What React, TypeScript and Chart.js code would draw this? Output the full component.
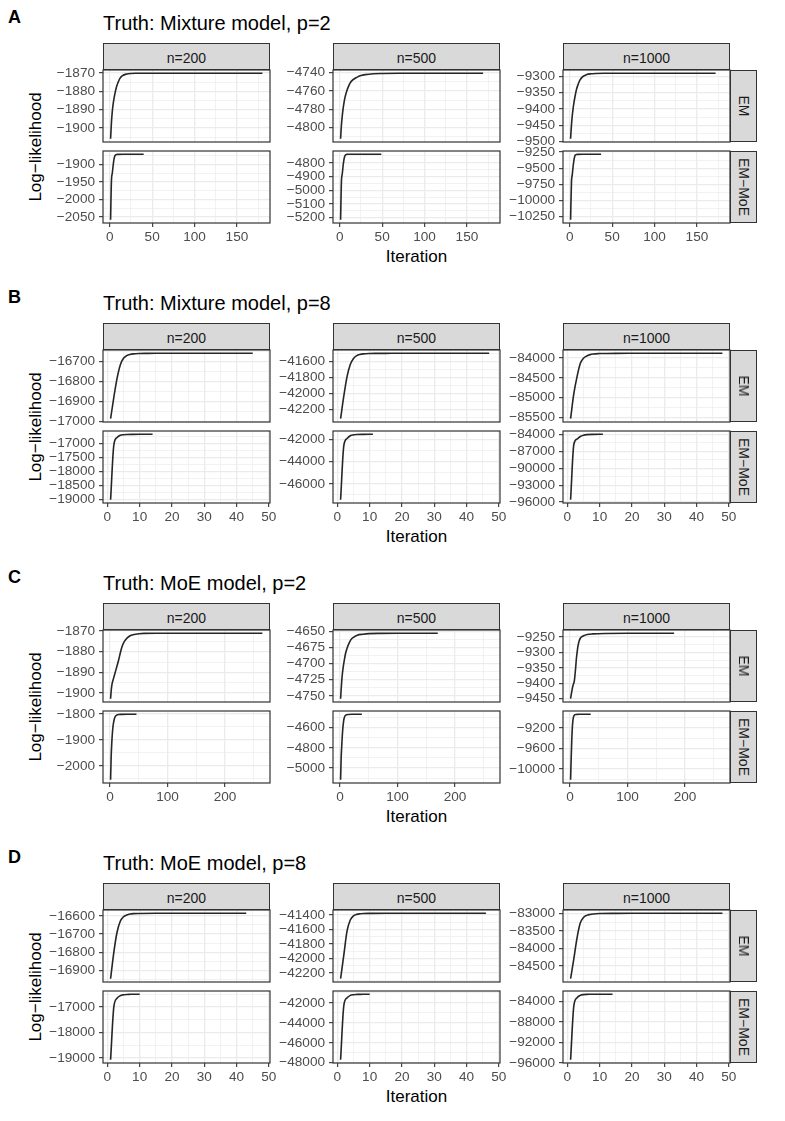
import React, { useEffect, useRef } from 'react';
import { Chart, registerables } from 'chart.js';

Chart.register(...registerables);

// ---------- labels ----------
const BLOCK_LETTERS = ['A', 'B', 'C', 'D'];
const BLOCK_TITLES = [
  'Truth: Mixture model, p=2',
  'Truth: Mixture model, p=8',
  'Truth: MoE model, p=2',
  'Truth: MoE model, p=8',
];
const SAMPLE_SIZES = ['n=200', 'n=500', 'n=1000'];
const METHODS = ['EM', 'EM\u2212MoE'];
const Y_TITLE = 'Log\u2212likelihood';
const X_TITLE = 'Iteration';

// ---------- x tick labels per block ----------
const X_TICKS_A = [0, 50, 100, 150];
const X_TICKS_B = [0, 10, 20, 30, 40, 50];
const X_TICKS_C = [0, 100, 200];
const X_TICKS_D = [0, 10, 20, 30, 40, 50];

// ---------- Block A: Mixture model, p=2 ----------
const A_N200_EM_ITER = [1, 2, 3, 4, 5, 6, 8, 10, 12, 15, 20, 25, 30, 40, 60, 100, 180];
const A_N200_EM_LL = [-1905.8, -1897, -1891, -1887, -1884, -1881.5, -1877.5, -1875, -1873, -1871.5, -1870.6, -1870.3, -1870.2, -1870.2, -1870.2, -1870.2, -1870.2];
const A_N200_EM_YTICKS = [-1900, -1890, -1880, -1870];
const A_N500_EM_ITER = [1, 2, 3, 4, 5, 6, 8, 10, 12, 15, 20, 25, 30, 40, 50, 70, 100, 169];
const A_N500_EM_LL = [-4812, -4797, -4787, -4779, -4773, -4768, -4761, -4756, -4752, -4748.5, -4745.5, -4743.5, -4742.5, -4741.5, -4741.2, -4741, -4741, -4741];
const A_N500_EM_YTICKS = [-4800, -4780, -4760, -4740];
const A_N1000_EM_ITER = [1, 2, 3, 4, 5, 6, 8, 10, 12, 15, 20, 25, 30, 40, 60, 100, 172];
const A_N1000_EM_LL = [-9491, -9450, -9420, -9398, -9380, -9365, -9340, -9324, -9312, -9302, -9295, -9292.5, -9291.5, -9291, -9291, -9291, -9291];
const A_N1000_EM_YTICKS = [-9500, -9450, -9400, -9350, -9300];
const A_N200_MOE_ITER = [1, 2, 3, 4, 5, 6, 7, 8, 10, 15, 20, 40];
const A_N200_MOE_LL = [-2057.5, -1946, -1925, -1903, -1885, -1876, -1872.5, -1871.5, -1871.2, -1871, -1871, -1871];
const A_N200_MOE_YTICKS = [-2050, -2000, -1950, -1900];
const A_N500_MOE_ITER = [1, 2, 3, 4, 5, 6, 7, 8, 10, 15, 20, 49];
const A_N500_MOE_LL = [-5215, -4935, -4880, -4820, -4775, -4750, -4741, -4739, -4738.3, -4738, -4738, -4738];
const A_N500_MOE_YTICKS = [-5200, -5100, -5000, -4900, -4800];
const A_N1000_MOE_ITER = [1, 2, 3, 4, 5, 6, 7, 8, 10, 15, 20, 37];
const A_N1000_MOE_LL = [-10302, -9729, -9600, -9470, -9370, -9310, -9292, -9287, -9285, -9284, -9284, -9284];
const A_N1000_MOE_YTICKS = [-10250, -10000, -9750, -9500, -9250];

// ---------- Block B: Mixture model, p=8 ----------
const B_N200_EM_ITER = [1, 2, 3, 4, 5, 6, 7, 8, 10, 12, 15, 20, 30, 45];
const B_N200_EM_LL = [-16987, -16880, -16785, -16718, -16685, -16672, -16666, -16663, -16661, -16660.5, -16660, -16660, -16660, -16660];
const B_N200_EM_YTICKS = [-17000, -16900, -16800, -16700];
const B_N500_EM_ITER = [1, 2, 3, 4, 5, 6, 7, 8, 10, 12, 15, 20, 30, 47];
const B_N500_EM_LL = [-42312, -42030, -41790, -41640, -41565, -41530, -41515, -41508, -41503, -41501.5, -41501, -41500, -41500, -41500];
const B_N500_EM_YTICKS = [-42200, -42000, -41800, -41600];
const B_N1000_EM_ITER = [1, 2, 3, 4, 5, 6, 7, 8, 10, 12, 15, 20, 30, 48];
const B_N1000_EM_LL = [-85527, -84900, -84470, -84140, -84010, -83955, -83920, -83903, -83893, -83890, -83888, -83887, -83886, -83886];
const B_N1000_EM_YTICKS = [-85500, -85000, -84500, -84000];
const B_N200_MOE_ITER = [1, 2, 3, 4, 5, 6, 8, 10, 14];
const B_N200_MOE_LL = [-19000, -17050, -16780, -16700, -16680, -16672, -16668, -16666, -16665];
const B_N200_MOE_YTICKS = [-19000, -18500, -18000, -17500, -17000];
const B_N500_MOE_ITER = [1, 2, 3, 4, 5, 6, 8, 11];
const B_N500_MOE_LL = [-47430, -42540, -41900, -41650, -41570, -41540, -41525, -41520];
const B_N500_MOE_YTICKS = [-46000, -44000, -42000];
const B_N1000_MOE_ITER = [1, 2, 3, 4, 5, 6, 8, 11];
const B_N1000_MOE_LL = [-95590, -85770, -84800, -84350, -84120, -84020, -83965, -83950];
const B_N1000_MOE_YTICKS = [-96000, -93000, -90000, -87000, -84000];

// ---------- Block C: MoE model, p=2 ----------
const C_N200_EM_ITER = [1, 2, 3, 4, 6, 8, 10, 12, 15, 18, 21, 25, 30, 35, 40, 50, 60, 80, 120, 265];
const C_N200_EM_LL = [-1902.7, -1899, -1896.5, -1895, -1893, -1891, -1889, -1887, -1884, -1880.5, -1877.5, -1875, -1873.3, -1872.3, -1871.8, -1871.3, -1871.15, -1871.1, -1871.1, -1871.1];
const C_N200_EM_YTICKS = [-1900, -1890, -1880, -1870];
const C_N500_EM_ITER = [1, 2, 3, 4, 5, 6, 8, 10, 12, 15, 19, 24, 30, 40, 50, 70, 100, 170];
const C_N500_EM_LL = [-4754.6, -4740, -4727, -4717, -4709, -4703, -4692, -4683, -4677, -4670, -4663, -4659, -4656, -4654.5, -4653.6, -4653.2, -4653.1, -4653.1];
const C_N500_EM_YTICKS = [-4750, -4725, -4700, -4675, -4650];
const C_N1000_EM_ITER = [1, 2, 3, 4, 5, 6, 7, 8, 9, 10, 11, 12, 13, 14, 16, 18, 20, 25, 30, 40, 60, 100, 181];
const C_N1000_EM_LL = [-9450, -9438, -9427, -9417, -9408, -9402, -9397, -9385, -9366, -9345, -9322, -9305, -9290, -9278, -9262, -9254, -9250, -9245, -9242, -9240, -9238.5, -9238, -9238];
const C_N1000_EM_YTICKS = [-9450, -9400, -9350, -9300, -9250];
const C_N200_MOE_ITER = [1, 2, 3, 4, 5, 6, 8, 10, 12, 15, 20, 30, 46];
const C_N200_MOE_LL = [-2054, -1965, -1915, -1878, -1852, -1835, -1815, -1807, -1804, -1802, -1801.3, -1801, -1801];
const C_N200_MOE_YTICKS = [-2000, -1900, -1800];
const C_N500_MOE_ITER = [1, 2, 3, 4, 5, 6, 7, 8, 10, 15, 20, 38];
const C_N500_MOE_LL = [-5114, -4900, -4780, -4680, -4600, -4550, -4515, -4495, -4480, -4473, -4471, -4471];
const C_N500_MOE_YTICKS = [-5000, -4800, -4600];
const C_N1000_MOE_ITER = [1, 2, 3, 4, 5, 6, 7, 8, 10, 15, 20, 36];
const C_N1000_MOE_LL = [-10212, -9800, -9450, -9200, -9060, -8990, -8960, -8948, -8940, -8936, -8935, -8935];
const C_N1000_MOE_YTICKS = [-10000, -9600, -9200];

// ---------- Block D: MoE model, p=8 ----------
const D_N200_EM_ITER = [1, 2, 3, 4, 5, 6, 7, 8, 10, 15, 20, 30, 43];
const D_N200_EM_LL = [-16945, -16800, -16690, -16630, -16605, -16595, -16590, -16588, -16587, -16586, -16586, -16586, -16586];
const D_N200_EM_YTICKS = [-16900, -16800, -16700, -16600];
const D_N500_EM_ITER = [1, 2, 3, 4, 5, 6, 7, 8, 10, 15, 20, 30, 46];
const D_N500_EM_LL = [-42277, -41950, -41620, -41470, -41412, -41392, -41384, -41380, -41378, -41377, -41377, -41377, -41377];
const D_N500_EM_YTICKS = [-42200, -42000, -41800, -41600, -41400];
const D_N1000_EM_ITER = [1, 2, 3, 4, 5, 6, 7, 8, 10, 15, 20, 30, 48];
const D_N1000_EM_LL = [-84869, -84300, -83700, -83280, -83120, -83060, -83035, -83020, -83008, -83002, -83000, -83000, -83000];
const D_N1000_EM_YTICKS = [-84500, -84000, -83500, -83000];
const D_N200_MOE_ITER = [1, 2, 3, 4, 5, 6, 7, 8, 10];
const D_N200_MOE_LL = [-19065, -17000, -16660, -16560, -16525, -16512, -16507, -16505, -16505];
const D_N200_MOE_YTICKS = [-19000, -18000, -17000];
const D_N500_MOE_ITER = [1, 2, 3, 4, 5, 6, 7, 8, 10];
const D_N500_MOE_LL = [-47700, -42270, -41500, -41250, -41180, -41155, -41146, -41142, -41140];
const D_N500_MOE_YTICKS = [-48000, -46000, -44000, -42000];
const D_N1000_MOE_ITER = [1, 2, 3, 4, 5, 6, 7, 8, 10, 14];
const D_N1000_MOE_LL = [-95400, -84900, -83300, -82850, -82700, -82660, -82645, -82640, -82636, -82636];
const D_N1000_MOE_YTICKS = [-96000, -92000, -88000, -84000];

// ---------- tables built from the arrays ----------
type FacetData = { it: number[]; ll: number[]; yt: number[] };
const f = (it: number[], ll: number[], yt: number[]): FacetData => ({ it, ll, yt });

const BLOCKS: { xTicks: number[]; rows: FacetData[][] }[] = [
  {
    xTicks: X_TICKS_A,
    rows: [
      [f(A_N200_EM_ITER, A_N200_EM_LL, A_N200_EM_YTICKS), f(A_N500_EM_ITER, A_N500_EM_LL, A_N500_EM_YTICKS), f(A_N1000_EM_ITER, A_N1000_EM_LL, A_N1000_EM_YTICKS)],
      [f(A_N200_MOE_ITER, A_N200_MOE_LL, A_N200_MOE_YTICKS), f(A_N500_MOE_ITER, A_N500_MOE_LL, A_N500_MOE_YTICKS), f(A_N1000_MOE_ITER, A_N1000_MOE_LL, A_N1000_MOE_YTICKS)],
    ],
  },
  {
    xTicks: X_TICKS_B,
    rows: [
      [f(B_N200_EM_ITER, B_N200_EM_LL, B_N200_EM_YTICKS), f(B_N500_EM_ITER, B_N500_EM_LL, B_N500_EM_YTICKS), f(B_N1000_EM_ITER, B_N1000_EM_LL, B_N1000_EM_YTICKS)],
      [f(B_N200_MOE_ITER, B_N200_MOE_LL, B_N200_MOE_YTICKS), f(B_N500_MOE_ITER, B_N500_MOE_LL, B_N500_MOE_YTICKS), f(B_N1000_MOE_ITER, B_N1000_MOE_LL, B_N1000_MOE_YTICKS)],
    ],
  },
  {
    xTicks: X_TICKS_C,
    rows: [
      [f(C_N200_EM_ITER, C_N200_EM_LL, C_N200_EM_YTICKS), f(C_N500_EM_ITER, C_N500_EM_LL, C_N500_EM_YTICKS), f(C_N1000_EM_ITER, C_N1000_EM_LL, C_N1000_EM_YTICKS)],
      [f(C_N200_MOE_ITER, C_N200_MOE_LL, C_N200_MOE_YTICKS), f(C_N500_MOE_ITER, C_N500_MOE_LL, C_N500_MOE_YTICKS), f(C_N1000_MOE_ITER, C_N1000_MOE_LL, C_N1000_MOE_YTICKS)],
    ],
  },
  {
    xTicks: X_TICKS_D,
    rows: [
      [f(D_N200_EM_ITER, D_N200_EM_LL, D_N200_EM_YTICKS), f(D_N500_EM_ITER, D_N500_EM_LL, D_N500_EM_YTICKS), f(D_N1000_EM_ITER, D_N1000_EM_LL, D_N1000_EM_YTICKS)],
      [f(D_N200_MOE_ITER, D_N200_MOE_LL, D_N200_MOE_YTICKS), f(D_N500_MOE_ITER, D_N500_MOE_LL, D_N500_MOE_YTICKS), f(D_N1000_MOE_ITER, D_N1000_MOE_LL, D_N1000_MOE_YTICKS)],
    ],
  },
];

// ---------- layout ----------
const FONT = '"Liberation Sans", Arial, Helvetica, sans-serif';
const TICK_FONT_SIZE = 13.6;
const STRIP_TOPS = [43, 323, 603, 883];
const PANEL_LEFTS = [103, 333, 563];
const PANEL_W = 167;
const PANEL_H = 72;
const STRIP_H = 27;
const ROW_GAP = 9;
const RSTRIP_W = 27;
const Y_AXIS_W = 70;
const PAD_T = 14;
const PAD_R = 14;
const PAD_B = 14;
const X_AXIS_H = 30;
const BORDER = '#333333';
const GRID = '#ebebeb';

Chart.defaults.font.family = FONT;
Chart.defaults.font.size = TICK_FONT_SIZE;
Chart.defaults.color = '#4d4d4d';

const fmt = (v: number) => (v < 0 ? '\u2212' + Math.abs(v) : String(v));

function minorBreaks(major: number[], lo: number, hi: number) {
  const s = [...major].sort((a, b) => a - b);
  const step = s[1] - s[0];
  const ext = [s[0] - step, ...s, s[s.length - 1] + step];
  const out: number[] = [];
  for (let i = 0; i < ext.length - 1; i++) {
    const m = (ext[i] + ext[i + 1]) / 2;
    if (m >= lo && m <= hi) out.push(m);
  }
  return out;
}

function tickSet(major: number[], lo: number, hi: number) {
  const eps = (hi - lo) * 1e-6;
  const maj = major.filter((v) => v >= lo - eps && v <= hi + eps).map((v) => ({ value: v, m: true }));
  const min = minorBreaks(major, lo, hi).map((v) => ({ value: v, m: false }));
  return [...maj, ...min].sort((a, b) => a.value - b.value);
}

const borderPlugin = {
  id: 'panelBorder',
  afterDraw(chart: any) {
    const { ctx, chartArea: a } = chart;
    ctx.save();
    ctx.strokeStyle = BORDER;
    ctx.lineWidth = 1.2;
    ctx.strokeRect(a.left, a.top, a.right - a.left, a.bottom - a.top);
    ctx.restore();
  },
};

function Facet(props: { data: FacetData; xlo: number; xhi: number; xTicks: number[]; left: number; top: number; bottom: boolean }) {
  const { data, xlo, xhi, xTicks, left, top, bottom } = props;
  const ref = useRef<HTMLCanvasElement>(null);
  const W = Y_AXIS_W + PANEL_W + PAD_R;
  const H = PAD_T + PANEL_H + (bottom ? X_AXIS_H : PAD_B);

  useEffect(() => {
    const yMin = Math.min(...data.ll);
    const yMax = Math.max(...data.ll);
    const yPad = (yMax - yMin) * 0.05;
    const ylo = yMin - yPad;
    const yhi = yMax + yPad;
    const yTickObjs = tickSet(data.yt, ylo, yhi);
    const xTickObjs = tickSet(xTicks, xlo, xhi);
    const tickFont = { family: FONT, size: TICK_FONT_SIZE };
    const gridW = (ctx: any) => (ctx.tick && ctx.tick.m ? 1.3 : 0.65);
    const tickC = (ctx: any) => (ctx.tick && ctx.tick.m ? BORDER : 'rgba(0,0,0,0)');
    const label = (v: any, i: number, t: any[]) => (t[i] && t[i].m ? fmt(Number(v)) : '');

    const chart = new Chart(ref.current as HTMLCanvasElement, {
      type: 'line',
      data: {
        datasets: [
          {
            data: data.it.map((x, i) => ({ x, y: data.ll[i] })),
            borderColor: '#262626',
            borderWidth: 1.6,
            pointRadius: 0,
            fill: false,
            cubicInterpolationMode: 'monotone',
          } as any,
        ],
      },
      options: {
        animation: false,
        responsive: false,
        maintainAspectRatio: false,
        events: [],
        layout: { autoPadding: false, padding: { left: 0, top: PAD_T, right: PAD_R, bottom: bottom ? 0 : PAD_B } },
        plugins: { legend: { display: false }, tooltip: { enabled: false }, title: { display: false } },
        scales: {
          x: {
            type: 'linear',
            min: xlo,
            max: xhi,
            bounds: 'data',
            afterBuildTicks: (axis: any) => {
              axis.ticks = xTickObjs.map((t) => ({ ...t }));
            },
            afterFit: (axis: any) => {
              axis.height = bottom ? X_AXIS_H : 0;
            },
            border: { display: false },
            grid: { color: GRID, lineWidth: gridW, drawTicks: bottom, tickLength: 4, tickColor: tickC, tickWidth: 1.1 },
            ticks: { display: bottom, autoSkip: false, maxRotation: 0, minRotation: 0, padding: 2, color: '#4d4d4d', font: tickFont, callback: label },
          },
          y: {
            type: 'linear',
            min: ylo,
            max: yhi,
            bounds: 'data',
            afterBuildTicks: (axis: any) => {
              axis.ticks = yTickObjs.map((t) => ({ ...t }));
            },
            afterFit: (axis: any) => {
              axis.width = Y_AXIS_W;
            },
            border: { display: false },
            grid: { color: GRID, lineWidth: gridW, drawTicks: true, tickLength: 4, tickColor: tickC, tickWidth: 1.1 },
            ticks: { autoSkip: false, padding: 4, color: '#4d4d4d', font: tickFont, callback: label },
          },
        },
      } as any,
      plugins: [borderPlugin],
    });
    return () => chart.destroy();
  }, []);

  return (
    <canvas
      ref={ref}
      width={W}
      height={H}
      style={{ position: 'absolute', left: left - Y_AXIS_W, top: top - PAD_T, width: W, height: H }}
    />
  );
}

const abs = (extra: React.CSSProperties): React.CSSProperties => ({ position: 'absolute', whiteSpace: 'nowrap', fontFamily: FONT, ...extra });

export default function App() {
  const nodes: React.ReactNode[] = [];
  BLOCKS.forEach((block, b) => {
    const S = STRIP_TOPS[b];
    const maxIt = Math.max(...block.rows.flat().map((d) => Math.max(...d.it)));
    const minIt = Math.min(...block.rows.flat().map((d) => Math.min(...d.it)));
    const xp = (maxIt - minIt) * 0.05;
    const xlo = minIt - xp;
    const xhi = maxIt + xp;
    const panelTops = [S + STRIP_H, S + STRIP_H + PANEL_H + ROW_GAP];

    nodes.push(
      <div key={`L${b}`} style={abs({ left: 8, top: S - 35, fontSize: 18, lineHeight: '18px', fontWeight: 'bold', color: '#000' })}>
        {BLOCK_LETTERS[b]}
      </div>,
      <div key={`T${b}`} style={abs({ left: 103, top: S - 29.6, fontSize: 20, lineHeight: '20px', color: '#000' })}>
        {BLOCK_TITLES[b]}
      </div>,
      <div
        key={`Y${b}`}
        style={abs({ left: 35, top: S + STRIP_H + (2 * PANEL_H + ROW_GAP) / 2, fontSize: 17, lineHeight: '17px', color: '#000', transform: 'translate(-50%, -50%) rotate(-90deg)' })}
      >
        {Y_TITLE}
      </div>,
      <div
        key={`X${b}`}
        style={abs({ left: (PANEL_LEFTS[0] + PANEL_LEFTS[2] + PANEL_W) / 2, top: S + 204.6, fontSize: 17, lineHeight: '17px', color: '#000', transform: 'translateX(-50%)' })}
      >
        {X_TITLE}
      </div>
    );

    SAMPLE_SIZES.forEach((lab, c) => {
      nodes.push(
        <div
          key={`S${b}-${c}`}
          style={abs({
            left: PANEL_LEFTS[c],
            top: S,
            width: PANEL_W,
            height: STRIP_H,
            boxSizing: 'border-box',
            border: `1.2px solid ${BORDER}`,
            background: '#d9d9d9',
            color: '#1a1a1a',
            fontSize: 14,
            lineHeight: '14px',
            display: 'flex',
            alignItems: 'center',
            justifyContent: 'center',
            paddingTop: 2,
          })}
        >
          {lab}
        </div>
      );
    });

    METHODS.forEach((m, r) => {
      nodes.push(
        <div
          key={`R${b}-${r}`}
          style={abs({
            left: PANEL_LEFTS[2] + PANEL_W,
            top: panelTops[r],
            width: RSTRIP_W,
            height: PANEL_H,
            boxSizing: 'border-box',
            border: `1.2px solid ${BORDER}`,
            background: '#d9d9d9',
          })}
        >
          <div
            style={abs({
              left: '50%',
              top: '50%',
              color: '#1a1a1a',
              fontSize: 14,
              lineHeight: '14px',
              transform: 'translate(-50%, -50%) rotate(90deg)',
            })}
          >
            {m}
          </div>
        </div>
      );
      block.rows[r].forEach((d, c) => {
        nodes.push(
          <Facet
            key={`F${b}-${r}-${c}`}
            data={d}
            xlo={xlo}
            xhi={xhi}
            xTicks={block.xTicks}
            left={PANEL_LEFTS[c]}
            top={panelTops[r]}
            bottom={r === 1}
          />
        );
      });
    });
  });

  return (
    <div style={{ position: 'absolute', left: 0, top: 0, width: 785, height: 1121, background: '#ffffff', overflow: 'hidden' }}>
      {nodes}
    </div>
  );
}
